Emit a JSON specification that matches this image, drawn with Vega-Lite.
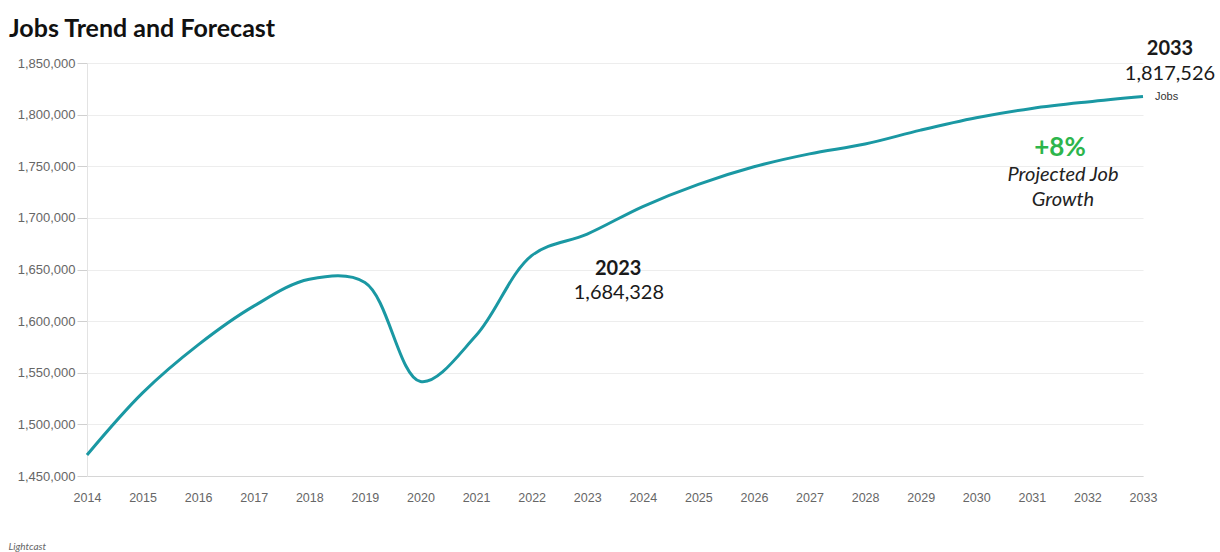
{
  "$schema": "https://vega.github.io/schema/vega-lite/v6.json",
  "autosize": "none",
  "width": 1056,
  "height": 413,
  "padding": {"left": 87, "top": 63, "right": 77, "bottom": 76},
  "background": "white",
  "title": {
    "text": "Jobs Trend and Forecast",
    "anchor": "start",
    "frame": "group",
    "dx": -78,
    "offset": -23,
    "baseline": "alphabetic",
    "font": "Lato",
    "fontSize": 25,
    "fontWeight": "bold",
    "color": "#111111"
  },
  "config": {
    "view": {"stroke": null},
    "text": {"font": "Lato", "color": "#1a1a1a"}
  },
  "layer": [
    {
      "data": {
        "values": [
          {"year": 2014, "jobs": 1470400},
          {"year": 2015, "jobs": 1530500},
          {"year": 2016, "jobs": 1577000},
          {"year": 2017, "jobs": 1614500},
          {"year": 2018, "jobs": 1640500},
          {"year": 2019, "jobs": 1637500},
          {"year": 2020, "jobs": 1541500},
          {"year": 2021, "jobs": 1586000},
          {"year": 2022, "jobs": 1663500},
          {"year": 2023, "jobs": 1684328},
          {"year": 2024, "jobs": 1711000},
          {"year": 2025, "jobs": 1732500},
          {"year": 2026, "jobs": 1749500},
          {"year": 2027, "jobs": 1762000},
          {"year": 2028, "jobs": 1771500},
          {"year": 2029, "jobs": 1785000},
          {"year": 2030, "jobs": 1797000},
          {"year": 2031, "jobs": 1806000},
          {"year": 2032, "jobs": 1812300},
          {"year": 2033, "jobs": 1817526}
        ]
      },
      "mark": {"type": "line", "interpolate": "catmull-rom", "color": "#1a98a3", "strokeWidth": 3},
      "encoding": {
        "x": {
          "field": "year",
          "type": "quantitative",
          "scale": {"domain": [2014, 2033], "nice": false, "zero": false},
          "axis": {
            "values": [2014,2015,2016,2017,2018,2019,2020,2021,2022,2023,2024,2025,2026,2027,2028,2029,2030,2031,2032,2033],
            "format": "d",
            "grid": false,
            "ticks": false,
            "domainColor": "#d6d6d6",
            "labelFont": "Liberation Sans",
            "labelFontSize": 12.5,
            "labelColor": "#666666",
            "labelPadding": 15,
            "labelFlush": false,
            "title": "Lightcast",
            "titleAnchor": "start",
            "titleX": -79,
            "titleY": 73,
            "titleAlign": "left",
            "titleBaseline": "alphabetic",
            "titleFont": "Lato",
            "titleFontSize": 10,
            "titleFontStyle": "italic",
            "titleFontWeight": "normal",
            "titleColor": "#666666"
          }
        },
        "y": {
          "field": "jobs",
          "type": "quantitative",
          "scale": {"domain": [1450000, 1850000], "nice": false, "zero": false},
          "axis": {
            "values": [1450000,1500000,1550000,1600000,1650000,1700000,1750000,1800000,1850000],
            "format": ",.0f",
            "title": null,
            "gridColor": "#ededed",
            "domainColor": "#e3e3e3",
            "tickColor": "#d0d0d0",
            "tickSize": 10,
            "labelPadding": 2,
            "labelFont": "Liberation Sans",
            "labelFontSize": 13,
            "labelColor": "#666666"
          }
        }
      }
    },
    {
      "data": {"values": [{"year": 2033, "jobs": 1817526, "label": "2033"}]},
      "mark": {"type": "text", "fontWeight": "bold", "fontSize": 20, "align": "center", "baseline": "alphabetic", "dx": 27, "dy": -41.7},
      "encoding": {
        "x": {"field": "year", "type": "quantitative"},
        "y": {"field": "jobs", "type": "quantitative"},
        "text": {"field": "label"}
      }
    },
    {
      "data": {"values": [{"year": 2033, "jobs": 1817526, "label": "1,817,526"}]},
      "mark": {"type": "text", "fontSize": 20, "align": "center", "baseline": "alphabetic", "dx": 27, "dy": -17},
      "encoding": {
        "x": {"field": "year", "type": "quantitative"},
        "y": {"field": "jobs", "type": "quantitative"},
        "text": {"field": "label"}
      }
    },
    {
      "data": {"values": [{"year": 2033, "jobs": 1817526, "label": "Jobs"}]},
      "mark": {"type": "text", "font": "Liberation Sans", "fontSize": 11, "color": "#333333", "align": "left", "baseline": "middle", "dx": 12, "dy": 0},
      "encoding": {
        "x": {"field": "year", "type": "quantitative"},
        "y": {"field": "jobs", "type": "quantitative"},
        "text": {"field": "label"}
      }
    },
    {
      "data": {"values": [{"year": 2033, "jobs": 1817526, "label": "+8%"}]},
      "mark": {"type": "text", "fontWeight": "bold", "fontSize": 26, "color": "#2db54c", "align": "center", "baseline": "alphabetic", "dx": -83, "dy": 59.8},
      "encoding": {
        "x": {"field": "year", "type": "quantitative"},
        "y": {"field": "jobs", "type": "quantitative"},
        "text": {"field": "label"}
      }
    },
    {
      "data": {"values": [{"year": 2033, "jobs": 1817526, "label": ["Projected Job", "Growth"]}]},
      "mark": {"type": "text", "fontStyle": "italic", "fontSize": 20, "lineHeight": 25, "color": "#222222", "align": "center", "baseline": "alphabetic", "dx": -80, "dy": 84.3},
      "encoding": {
        "x": {"field": "year", "type": "quantitative"},
        "y": {"field": "jobs", "type": "quantitative"},
        "text": {"field": "label"}
      }
    },
    {
      "data": {"values": [{"year": 2023, "jobs": 1684328, "label": "2023"}]},
      "mark": {"type": "text", "fontWeight": "bold", "fontSize": 20, "align": "center", "baseline": "alphabetic", "dx": 31, "dy": 41},
      "encoding": {
        "x": {"field": "year", "type": "quantitative"},
        "y": {"field": "jobs", "type": "quantitative"},
        "text": {"field": "label"}
      }
    },
    {
      "data": {"values": [{"year": 2023, "jobs": 1684328, "label": "1,684,328"}]},
      "mark": {"type": "text", "fontSize": 20, "align": "center", "baseline": "alphabetic", "dx": 31.7, "dy": 64.5},
      "encoding": {
        "x": {"field": "year", "type": "quantitative"},
        "y": {"field": "jobs", "type": "quantitative"},
        "text": {"field": "label"}
      }
    }
  ]
}
